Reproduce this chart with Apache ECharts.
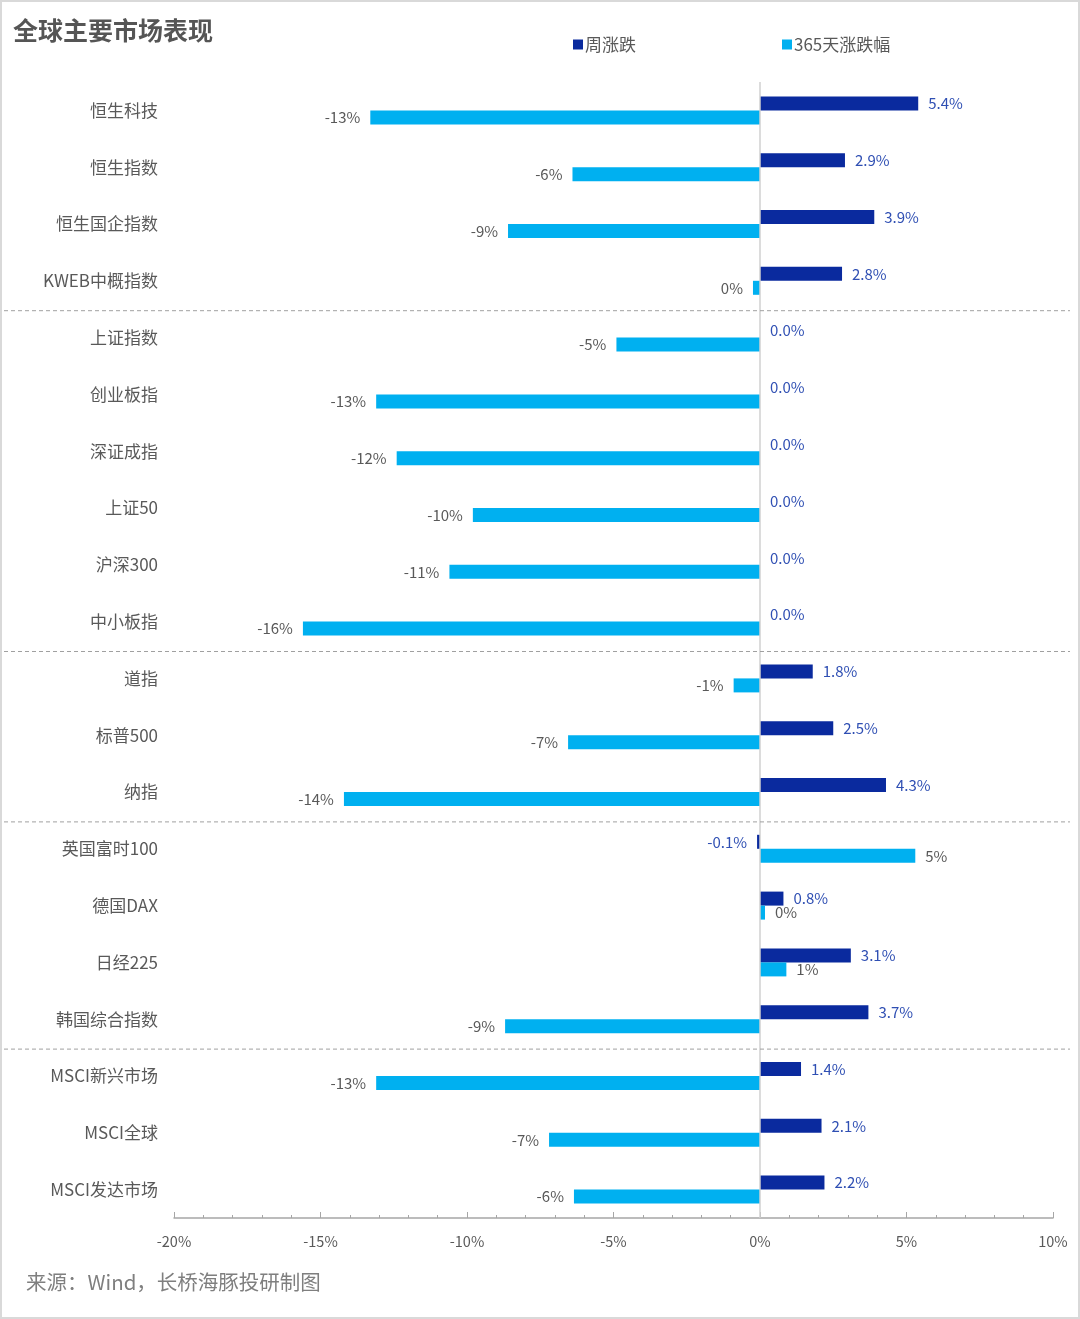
<!DOCTYPE html>
<html><head><meta charset="utf-8">
<script src="https://cdn.jsdelivr.net/npm/echarts@6/dist/echarts.min.js"></script>
<style>html,body{margin:0;padding:0;background:#fff}#c{width:1080px;height:1319px}</style>
</head><body><div id="c"></div>
<script>
const categories = ['恒生科技','恒生指数','恒生国企指数','KWEB中概指数','上证指数','创业板指','深证成指','上证50','沪深300','中小板指','道指','标普500','纳指','英国富时100','德国DAX','日经225','韩国综合指数','MSCI新兴市场','MSCI全球','MSCI发达市场'];
const weekly = [5.4,2.9,3.9,2.8,0,0,0,0,0,0,1.8,2.5,4.3,-0.1,0.8,3.1,3.7,1.4,2.1,2.2];
const yearly = [-13.3,-6.4,-8.6,-0.24,-4.9,-13.1,-12.4,-9.8,-10.6,-15.6,-0.9,-6.55,-14.2,5.3,0.17,0.9,-8.7,-13.1,-7.2,-6.35];
const groupBreaks = [3,9,12,16];
const xTicks = [-20,-15,-10,-5,0,5,10];

const FONT = '"Noto Sans CJK SC","Noto Sans",sans-serif';
const DARK = '#0a2a9e', LIGHT = '#00b0f0';
const chart = echarts.init(document.getElementById('c'));

function mk(arr, fmt) {
  return arr.map(v => ({value: v, label: {position: v < 0 ? 'left' : 'right', formatter: () => fmt(v)}}));
}

chart.setOption({
  animation: false,
  backgroundColor: '#fff',
  textStyle: {fontFamily: FONT},
  title: {text: '全球主要市场表现', left: 8, top: 13, textStyle: {fontSize: 25, fontWeight: 'bold', color: '#555', fontFamily: FONT}},
  legend: {left: 568, top: 31, itemWidth: 10, itemHeight: 10, itemGap: 146, icon: 'rect',
    textStyle: {fontSize: 17, color: '#595959', fontFamily: FONT, padding: [0,0,0,-3]},
    data: ['周涨跌','365天涨跌幅']},
  grid: {left: 174, right: 27, top: 82, bottom: 101},
  xAxis: {type: 'value', min: -20, max: 10, interval: 5,
    axisLine: {show: true, lineStyle: {color: '#a6a6a6', width: 1.5}},
    axisTick: {show: true, inside: true, length: 6, lineStyle: {color: '#a6a6a6'}},
    minorTick: {show: true, splitNumber: 5, length: 3, lineStyle: {color: '#a6a6a6'}},
    splitLine: {show: false},
    axisLabel: {margin: 16, fontSize: 14.5, color: '#595959', formatter: v => xTicks.includes(v) ? v + '%' : ''}},
  yAxis: {type: 'category', data: categories, inverse: true,
    axisLine: {show: false, onZero: false}, axisTick: {show: false},
    axisLabel: {margin: 16, fontSize: 17, color: '#595959'}},
  series: [
    {name: '周涨跌', type: 'bar', data: mk(weekly, v => v.toFixed(1) + '%'), barWidth: 14, barGap: '0%',
      itemStyle: {color: DARK},
      label: {show: true, distance: 10, fontSize: 15, color: '#2f4fb3'},
      markLine: {silent: true, symbol: 'none', label: {show: false},
        lineStyle: {color: '#d0d0d0', type: 'solid', width: 1.5}, data: [{xAxis: 0}]}},
    {name: '365天涨跌幅', type: 'bar', data: mk(yearly, v => Math.round(v) + '%'), barWidth: 14, barGap: '0%',
      itemStyle: {color: LIGHT},
      label: {show: true, distance: 10, fontSize: 15, color: '#595959'}}
  ]
});

const lines = groupBreaks.map(i => {
  const y = (chart.convertToPixel({yAxisIndex: 0}, i) + chart.convertToPixel({yAxisIndex: 0}, i + 1)) / 2 + 1.5;
  return {type: 'line', shape: {x1: 4, y1: y, x2: 1070, y2: y}, style: {stroke: '#a0a0a0', lineWidth: 1, lineDash: [4, 3]}, z: 5};
});
chart.setOption({graphic: [
  {type: 'rect', shape: {x: 1, y: 1, width: 1078, height: 1317}, style: {fill: 'none', stroke: '#d9d9d9', lineWidth: 2}, z: 10},
  {type: 'text', left: 26, top: 1272, style: {text: '来源：Wind，长桥海豚投研制图', fontSize: 20.5, fill: '#7f7f7f', fontFamily: FONT}},
  ...lines
]});
</script></body></html>
